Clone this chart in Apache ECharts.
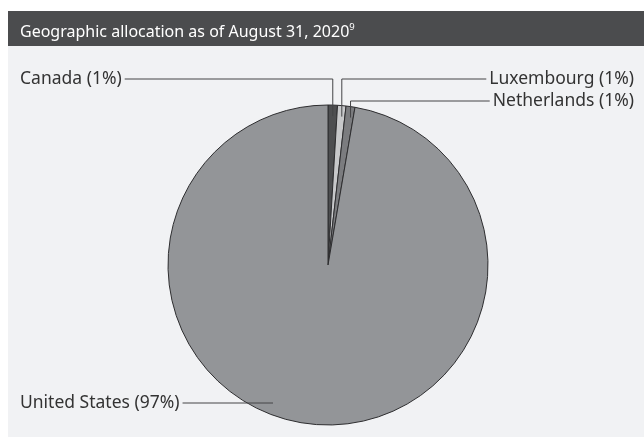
<!DOCTYPE html>
<html>
<head>
<meta charset="utf-8">
<script src="https://cdn.jsdelivr.net/npm/echarts@6/dist/echarts.min.js"></script>
<style>
html,body{margin:0;padding:0;background:#fff;}
#c{width:644px;height:437px;}
</style>
</head>
<body>
<div id="c"></div>
<script>
const titleText = 'Geographic allocation as of August 31, 2020';
const titleNote = '9';
const categories = ['Canada', 'Luxembourg', 'Netherlands', 'United States'];
const values = [0.95, 0.85, 0.9, 97.3];
const percentLabels = ['1%', '1%', '1%', '97%'];
const colors = ['#4d4e50', '#c7c8ca', '#7b7c7f', '#939598'];

const CX = 328, CY = 265, R = 160;
const FONT = '"Noto Sans", "Open Sans", sans-serif';

// label anchor placements (text layout only)
const labelPlace = [
  { side: 'left', y: 79 },
  { side: 'right', y: 79 },
  { side: 'right', y: 101 },
  { side: 'left', y: 403 }
];
const LEFT_X = 20, RIGHT_X = 634;

const chart = echarts.init(document.getElementById('c'), null, { renderer: 'canvas' });

const pieBase = {
  type: 'pie',
  center: [CX, CY],
  radius: R,
  startAngle: 90,
  clockwise: true,
  avoidLabelOverlap: false,
  emphasis: { disabled: true },
  silent: true
};

const option = {
  animation: false,
  backgroundColor: '#ffffff',
  graphic: [
    { type: 'rect', shape: { x: 8, y: 11, width: 636, height: 426 }, style: { fill: '#f1f2f4' }, z: -10 },
    { type: 'rect', shape: { x: 8, y: 11, width: 636, height: 35 }, style: { fill: '#4b4c4e' }, z: -9 }
  ],
  title: {
    text: '{t|' + titleText + '}{s|' + titleNote + '}',
    left: 15,
    top: 15,
    textStyle: {
      fontWeight: 'normal',
      rich: {
        t: { fontFamily: FONT, fontSize: 16, fontWeight: 'normal', color: '#ffffff', lineHeight: 24 },
        s: { fontFamily: FONT, fontSize: 9.5, fontWeight: 'normal', color: '#ffffff', padding: [0, 0, 9, 0], lineHeight: 24 }
      }
    }
  },
  series: [
    Object.assign({}, pieBase, {
      z: 2,
      itemStyle: { borderColor: '#2e2e30', borderWidth: 1 },
      label: { show: false },
      labelLine: { show: false },
      data: categories.map(function (c, i) {
        return { name: c, value: values[i], itemStyle: { color: colors[i] } };
      })
    }),
    Object.assign({}, pieBase, {
      z: 5,
      itemStyle: { color: 'rgba(0,0,0,0)', borderWidth: 0 },
      label: {
        show: true,
        position: 'outside',
        fontFamily: FONT,
        fontSize: 17.5,
        color: '#333333',
        formatter: function (p) { return p.name + ' (' + percentLabels[p.dataIndex] + ')'; }
      },
      labelLine: {
        show: true,
        length: 10,
        length2: 10,
        lineStyle: { color: '#444446', width: 1 }
      },
      labelLayout: function (params) {
        const i = params.dataIndex;
        const place = labelPlace[i];
        const w = params.labelRect.width;
        const p0 = params.labelLinePoints ? params.labelLinePoints[0] : [CX, CY - R];
        let pts, x, align;
        if (place.side === 'left') {
          x = LEFT_X; align = 'left';
        } else {
          x = RIGHT_X; align = 'right';
        }
        const textEnd = place.side === 'left' ? LEFT_X + w + 3 : RIGHT_X - w - 3;
        if (i === 3) {
          pts = [[textEnd, place.y], [CX - 55, place.y]];
        } else {
          pts = [[p0[0], p0[1] + 11], [p0[0], place.y], [textEnd, place.y]];
        }
        return {
          x: x,
          y: place.y,
          align: align,
          verticalAlign: 'middle',
          labelLinePoints: pts
        };
      },
      data: categories.map(function (c, i) {
        return { name: c, value: values[i] };
      })
    })
  ]
};
chart.setOption(option);
</script>
</body>
</html>
